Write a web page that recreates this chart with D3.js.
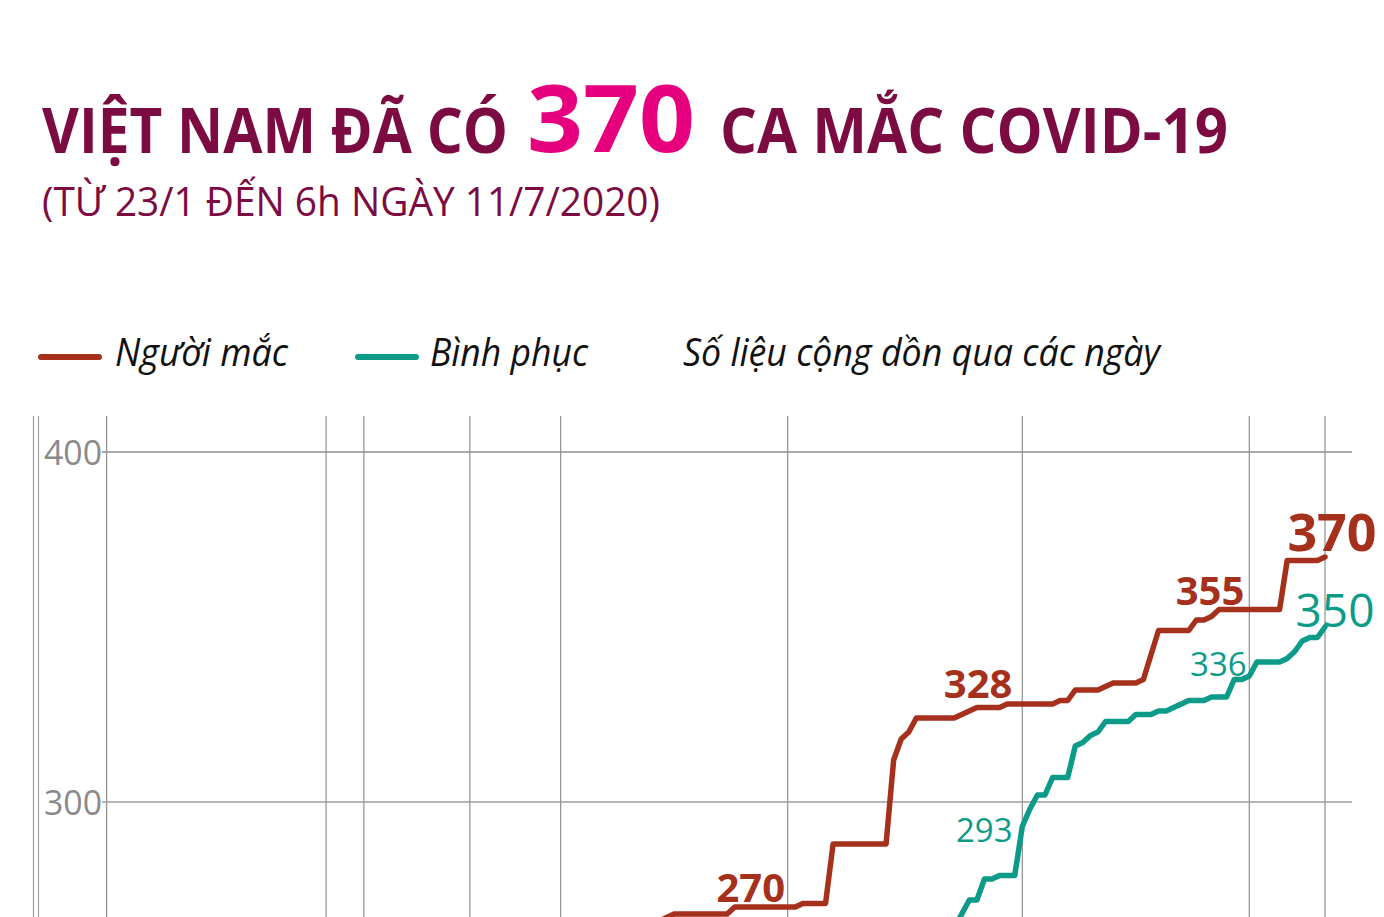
<!DOCTYPE html>
<html><head><meta charset="utf-8">
<script src="https://cdn.jsdelivr.net/npm/d3@7"></script>
<style>
html,body{margin:0;padding:0;background:#fff;overflow:hidden}
svg{display:block}
</style></head><body>
<svg id="c" width="1384" height="917"></svg>
<script>
// ---------- DATA ----------
const titleParts = ["VIỆT NAM ĐÃ CÓ", "370", "CA MẮC COVID-19"];
const subtitle = "(TỪ 23/1 ĐẾN 6h NGÀY 11/7/2020)";
const seriesNames = ["Người mắc", "Bình phục"];
const legendNote = "Số liệu cộng dồn qua các ngày";
const yTicks = [300, 400];
const xStart = "2020-01-23", xEnd = "2020-07-11";
const markerDates = ["2020-01-23","2020-02-01","2020-03-01","2020-03-06","2020-03-20","2020-04-01","2020-05-01","2020-06-01","2020-07-01","2020-07-11"];

// cumulative confirmed cases, daily from 12/4 to 11/7
const casesStart = "2020-04-12";
const cases = [262,265,266,267,
  268,268,268,268,268,268,268,268,
  270,270,270,270,270,270,270,270,270,
  271,271,271,271,
  288,288,288,288,288,288,288,288,
  312,318,320,
  324,324,324,324,324,324,
  325,326,
  327,327,327,327,
  328,328,328,328,328,328,328,
  329,329,
  332,332,332,332,
  333,
  334,334,334,334,
  335,342,
  349,349,349,349,349,
  352,352,353,
  355,355,355,355,355,355,355,355,355,
  369,369,369,369,369,
  370];
// cumulative recovered, daily from 23/5 to 11/7
const recStart = "2020-05-23";
const recovered = [264,268,272,272,278,278,279,279,279,
  293,298,302,302,307,307,307,316,317,319,320,
  323,323,323,323,325,325,325,326,326,327,328,
  329,329,329,330,330,330,335,335,336,
  340,340,340,340,341,343,346,347,347,350];

// labelled points
const caseLabelDates = ["2020-04-24","2020-05-30","2020-06-27","2020-07-11"];
const recLabelDates = ["2020-06-01","2020-07-01","2020-07-11"];

// ---------- STYLE ----------
const C_TITLE = "#7b0b41", C_PINK = "#e6007e", C_RED = "#a5311d", C_TEAL = "#0b9b88",
      C_GRID = "#8e8e8e", C_AX = "#8a8a8a";
const FONT = "'Open Sans', 'Noto Sans', sans-serif";

const svg = d3.select("#c");
const parse = d3.utcParse("%Y-%m-%d");

const x = d3.scaleUtc().domain([parse(xStart), parse(xEnd)]).range([38.5, 1325]);
const y = d3.scaleLinear().domain([300, 400]).range([802, 452]);

const plotTop = 416, plotBottom = 930, gridLeft = 102, gridRight = 1352;

// ---------- TITLE ----------
const tparts = [
  {t: titleParts[0], x: 42, w: 466, size: 62, color: C_TITLE, y: 153},
  {t: titleParts[1], x: 527, w: 168, size: 94, color: C_PINK, y: 152},
  {t: titleParts[2], x: 720, w: 508, size: 62, color: C_TITLE, y: 153}
];
svg.selectAll("text.title").data(tparts).join("text")
  .attr("class","title")
  .attr("x", d => d.x).attr("y", d => d.y)
  .attr("textLength", d => d.w).attr("lengthAdjust","spacingAndGlyphs")
  .style("font-family", FONT).style("font-weight", 700)
  .style("font-size", d => d.size + "px").attr("fill", d => d.color)
  .text(d => d.t);

svg.append("text").attr("x", 42).attr("y", 216)
  .attr("textLength", 618).attr("lengthAdjust","spacingAndGlyphs")
  .style("font-family", FONT).style("font-size","40px").attr("fill", C_TITLE)
  .text(subtitle);

// ---------- LEGEND ----------
const legend = [
  {name: seriesNames[0], color: C_RED, lx: 38, tx: 115, w: 173},
  {name: seriesNames[1], color: C_TEAL, lx: 355, tx: 430, w: 158}
];
const lg = svg.append("g");
legend.forEach(l => {
  lg.append("line").attr("x1", l.lx + 3).attr("x2", l.lx + 61).attr("y1", 357).attr("y2", 357)
    .attr("stroke", l.color).attr("stroke-width", 6).attr("stroke-linecap","round");
  lg.append("text").attr("x", l.tx).attr("y", 366)
    .attr("textLength", l.w).attr("lengthAdjust","spacingAndGlyphs")
    .style("font-family", FONT).style("font-style","italic").style("font-size","39px")
    .attr("fill","#111").text(l.name);
});
lg.append("text").attr("x", 683).attr("y", 366)
  .attr("textLength", 477).attr("lengthAdjust","spacingAndGlyphs")
  .style("font-family", FONT).style("font-style","italic").style("font-size","39px")
  .attr("fill","#111").text(legendNote);

// ---------- GRID ----------
const grid = svg.append("g");
grid.append("line").attr("x1", x.range()[0] - 5).attr("x2", x.range()[0] - 5)
  .attr("y1", plotTop).attr("y2", plotBottom).attr("stroke", "#a0a0a0").attr("stroke-width", 1.3);
grid.selectAll("line.v").data(markerDates).join("line").attr("class","v")
  .attr("x1", d => x(parse(d))).attr("x2", d => x(parse(d)))
  .attr("y1", plotTop).attr("y2", plotBottom)
  .attr("stroke", (d,i) => i === 0 ? "#a0a0a0" : C_GRID).attr("stroke-width", 1.2);
grid.selectAll("line.h").data(yTicks).join("line").attr("class","h")
  .attr("x1", gridLeft).attr("x2", gridRight)
  .attr("y1", d => y(d)).attr("y2", d => y(d))
  .attr("stroke", d => d === 300 ? "#9c9c9c" : C_GRID).attr("stroke-width", 1.3);
grid.selectAll("text.yt").data(yTicks).join("text").attr("class","yt")
  .attr("x", gridLeft).attr("y", d => y(d)).attr("dy", "0.36em")
  .attr("text-anchor","end")
  .style("font-family", FONT).style("font-size","35px").attr("fill", C_AX)
  .attr("textLength", 58).attr("lengthAdjust","spacingAndGlyphs")
  .text(d => d);

// ---------- LINES ----------
function series(start, vals) {
  const s = parse(start);
  return vals.map((v, i) => ({date: d3.utcDay.offset(s, i), value: v}));
}
const casesData = series(casesStart, cases);
const recData = series(recStart, recovered);

const line = d3.line().x(d => x(d.date)).y(d => y(d.value)).curve(d3.curveLinear);
svg.append("path").datum(recData).attr("d", line)
  .attr("fill","none").attr("stroke", C_TEAL).attr("stroke-width", 5.5)
  .attr("stroke-linejoin","round").attr("stroke-linecap","round");
svg.append("path").datum(casesData).attr("d", line)
  .attr("fill","none").attr("stroke", C_RED).attr("stroke-width", 5.5)
  .attr("stroke-linejoin","round").attr("stroke-linecap","round");

// ---------- LABELS ----------
const caseLabelStyle = [
  {dx: 16, dy: -5, size: 40}, {dx: -29, dy: -6, size: 40},
  {dx: -9, dy: -4.5, size: 40}, {dx: 7, dy: -6, size: 52}
];
const recLabelStyle = [
  {dx: -38, dy: 15.5, size: 33}, {dx: -31, dy: 0, size: 33}, {dx: 10, dy: 0, size: 46}
];
function findPt(data, ds) { const t = +parse(ds); return data.find(d => +d.date === t); }
caseLabelDates.forEach((ds, i) => {
  const p = findPt(casesData, ds), st = caseLabelStyle[i];
  svg.append("text").attr("x", x(p.date) + st.dx).attr("y", y(p.value) + st.dy)
    .attr("text-anchor","middle").style("font-family", FONT).style("font-weight", 700)
    .style("font-size", st.size + "px").attr("fill", C_RED).text(p.value);
});
recLabelDates.forEach((ds, i) => {
  const p = findPt(recData, ds), st = recLabelStyle[i];
  svg.append("text").attr("x", x(p.date) + st.dx).attr("y", y(p.value) + st.dy)
    .attr("text-anchor","middle").style("font-family", FONT).style("font-weight", 400)
    .style("font-size", st.size + "px").attr("fill", C_TEAL).text(p.value);
});
</script>
</body></html>
